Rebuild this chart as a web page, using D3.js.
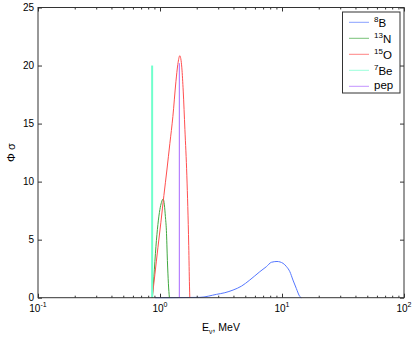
<!DOCTYPE html>
<html>
<head>
<meta charset="utf-8">
<script src="https://cdn.jsdelivr.net/npm/d3@7"></script>
<style>
  body { margin: 0; background: #fff; }
  svg { display: block; font-family: "Liberation Sans", Arial, sans-serif; }
</style>
</head>
<body>
<div id="chart"></div>
<script>
// series values: energy (MeV) and flux x cross-section
const b8E = [0.91, 1.2, 2.12, 2.91, 3.4, 3.97, 4.66, 5.44, 6.58, 7.44, 8.19, 9.1, 10.2, 10.9, 11.6, 12.3, 13.1, 14.0, 14.4];
const b8V = [0, 0, 0.03, 0.29, 0.43, 0.66, 1.0, 1.52, 2.24, 2.67, 3.05, 3.12, 2.96, 2.67, 2.24, 1.52, 0.8, 0.1, 0];

const n13E = [0.866, 0.891, 0.926, 0.961, 0.998, 1.027, 1.062, 1.086, 1.107, 1.128, 1.15, 1.172, 1.194];
const n13V = [0, 1.8, 4.4, 6.3, 7.6, 8.2, 8.5, 8.0, 7.0, 5.8, 3.2, 1.2, 0];

const o15E = [0.863, 0.908, 0.961, 1.017, 1.076, 1.139, 1.205, 1.275, 1.35, 1.40, 1.455, 1.48, 1.51, 1.55, 1.60, 1.66, 1.72, 1.745, 1.755];
const o15V = [0, 2.0, 4.3, 6.5, 8.8, 11.0, 13.3, 15.6, 18.6, 20.1, 20.85, 20.6, 19.8, 17.8, 14.5, 10.5, 4.5, 1.0, 0];

const be7E = [0.862, 0.862];
const be7V = [0, 20];

const pepE = [1.44, 1.44];
const pepV = [0, 20.2];

const seriesNames = ['8B', '13N', '15O', '7Be', 'pep'];
const seriesColors = ['#5577ff', '#3fa83f', '#ff4f4f', '#70ffcc', '#a966ff'];

const xMajor = [0.1, 1, 10, 100];
const xExp = ['-1', '0', '1', '2'];
const yTicks = [0, 5, 10, 15, 20, 25];

const W = 415, H = 337;
const plotL = 38, plotR = 404, plotT = 7.5, plotB = 297.7;

const svg = d3.select('#chart').append('svg')
  .attr('width', W).attr('height', H);

const x = d3.scaleLog().domain([0.1, 100]).range([plotL, plotR]);
const y = d3.scaleLinear().domain([0, 25]).range([plotB, plotT]);

const minors = [];
for (let d = 0.1; d < 100; d *= 10) {
  for (let k = 2; k <= 9; k++) minors.push(d * k);
}

// data lines
const series = [
  { name: seriesNames[0], E: b8E, V: b8V, color: seriesColors[0], w: 1 },
  { name: seriesNames[1], E: n13E, V: n13V, color: seriesColors[1], w: 1 },
  { name: seriesNames[2], E: o15E, V: o15V, color: seriesColors[2], w: 1 },
  { name: seriesNames[3], E: be7E, V: be7V, color: seriesColors[3], w: 2 },
  { name: seriesNames[4], E: pepE, V: pepV, color: seriesColors[4], w: 1 },
];

const line = d3.line()
  .x(d => x(d[0]))
  .y(d => y(d[1]))
  .curve(d3.curveMonotoneX);
const straight = d3.line()
  .x(d => x(d[0]))
  .y(d => y(d[1]));

const lineG = svg.append('g');
series.forEach(s => {
  const pts = s.E.map((e, i) => [e, s.V[i]]);
  lineG.append('path')
    .datum(pts)
    .attr('fill', 'none')
    .attr('stroke', s.color)
    .attr('stroke-width', s.w)
    .attr('d', s.E[0] === s.E[1] ? straight : line);
});

// box
svg.append('rect')
  .attr('x', plotL).attr('y', plotT)
  .attr('width', plotR - plotL).attr('height', plotB - plotT)
  .attr('fill', 'none').attr('stroke', '#333').attr('stroke-width', 1);

function styleAxis(g) {
  g.select('.domain').remove();
  g.selectAll('line').attr('stroke', '#333');
  g.selectAll('text').remove();
}

// x ticks bottom & top
svg.append('g').attr('transform', `translate(0,${plotB})`)
  .call(d3.axisBottom(x).tickValues(xMajor).tickSize(-4).tickFormat(''))
  .call(styleAxis);
svg.append('g').attr('transform', `translate(0,${plotB})`)
  .call(d3.axisBottom(x).tickValues(minors).tickSize(-2).tickFormat(''))
  .call(styleAxis);
svg.append('g').attr('transform', `translate(0,${plotT})`)
  .call(d3.axisTop(x).tickValues(xMajor).tickSize(-4).tickFormat(''))
  .call(styleAxis);
svg.append('g').attr('transform', `translate(0,${plotT})`)
  .call(d3.axisTop(x).tickValues(minors).tickSize(-2).tickFormat(''))
  .call(styleAxis);

// y ticks left & right
svg.append('g').attr('transform', `translate(${plotL},0)`)
  .call(d3.axisLeft(y).tickValues(yTicks).tickSize(-4).tickFormat(''))
  .call(styleAxis);
svg.append('g').attr('transform', `translate(${plotR},0)`)
  .call(d3.axisRight(y).tickValues(yTicks).tickSize(-4).tickFormat(''))
  .call(styleAxis);

// y tick labels
svg.append('g').selectAll('text')
  .data(yTicks)
  .enter().append('text')
  .attr('x', plotL - 4)
  .attr('y', d => y(d))
  .attr('dy', '0.35em')
  .attr('text-anchor', 'end')
  .attr('font-size', 10)
  .attr('fill', '#000')
  .text(d => d);

// x tick labels 10^n
const xl = svg.append('g').selectAll('text')
  .data(xMajor)
  .enter().append('text')
  .attr('x', d => x(d))
  .attr('y', 312)
  .attr('text-anchor', 'middle')
  .attr('font-size', 10)
  .attr('fill', '#000');
xl.append('tspan').text('10');
xl.append('tspan').attr('dy', -5).attr('font-size', 7).text((d, i) => xExp[i]);

// axis titles
const xt = svg.append('text')
  .attr('x', (plotL + plotR) / 2)
  .attr('y', 331)
  .attr('text-anchor', 'middle')
  .attr('font-size', 10.5)
  .attr('fill', '#000');
xt.append('tspan').text('E');
xt.append('tspan').attr('dy', 3).attr('font-size', 7).text('ν');
xt.append('tspan').attr('dy', -3).text(', MeV');

svg.append('text')
  .attr('transform', `translate(15,${(plotT + plotB) / 2}) rotate(-90)`)
  .attr('text-anchor', 'middle')
  .attr('font-size', 11)
  .attr('fill', '#000')
  .text('Φ σ');

// legend
const lg = svg.append('g');
lg.append('rect')
  .attr('x', 342.5).attr('y', 12)
  .attr('width', 57.5).attr('height', 81)
  .attr('fill', '#fff').attr('stroke', '#333').attr('stroke-width', 1);

const legendSup = ['8', '13', '15', '7', ''];
const legendMain = ['B', 'N', 'O', 'Be', 'pep'];
series.forEach((s, i) => {
  const ry = 22.3 + i * 16;
  lg.append('line')
    .attr('x1', 349).attr('x2', 369)
    .attr('y1', ry).attr('y2', ry)
    .attr('stroke', s.color).attr('stroke-opacity', 0.7).attr('stroke-width', 1);
  const t = lg.append('text')
    .attr('x', 374).attr('y', ry + (i === 4 ? 2.5 : 5))
    .attr('font-size', 11.5)
    .attr('fill', '#000');
  if (legendSup[i]) {
    t.append('tspan').attr('font-size', 8).attr('dy', -5).text(legendSup[i]);
    t.append('tspan').attr('dy', 5).text(legendMain[i]);
  } else {
    t.append('tspan').text(legendMain[i]);
  }
});
</script>
</body>
</html>
